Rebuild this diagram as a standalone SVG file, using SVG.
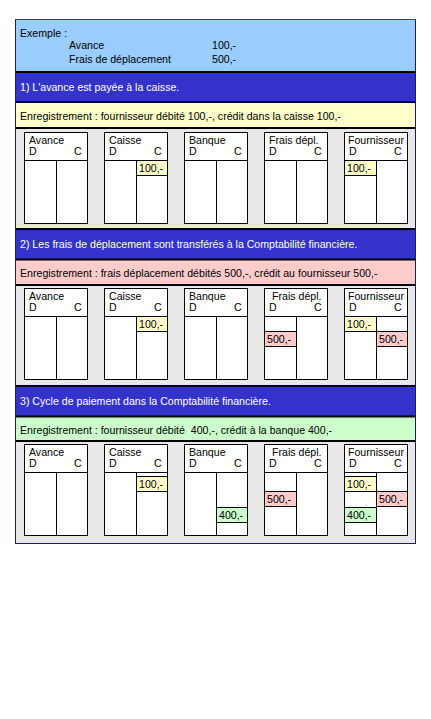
<svg xmlns="http://www.w3.org/2000/svg" width="431" height="719" viewBox="0 0 431 719">
<style>
.t{font-family:"Liberation Sans",Arial,sans-serif;font-size:10.6px;fill:#000}
.tw{font-family:"Liberation Sans",Arial,sans-serif;font-size:10.6px;fill:#fff}
.frame{fill:#fff;stroke:#000;stroke-width:1}
.ln{stroke:#000;stroke-width:1}
.sep{stroke:#000;stroke-width:2}
.blue{fill:#3333CC}
.gray{fill:#E8E8E8}
.vy{fill:#FFFFCC;stroke:#000;stroke-width:1}
.vp{fill:#FFCCCC;stroke:#000;stroke-width:1}
.vg{fill:#CCFFCC;stroke:#000;stroke-width:1}
</style>
<defs>
<g id="tacct">
<rect class="frame" x="0.5" y="0.5" width="63" height="91"/>
<line class="ln" x1="0.5" y1="28.5" x2="63.5" y2="28.5"/>
<line class="ln" x1="32.5" y1="28.5" x2="32.5" y2="91.5"/>
<text class="t" x="5" y="23">D</text>
<text class="t" x="50" y="23">C</text>
</g>
</defs>
<rect width="431" height="719" fill="#fff"/>
<g id="example">
<rect x="15.5" y="19.5" width="400" height="524" fill="#E8E8E8" stroke="#1a1a66" stroke-width="1"/>
<rect x="16" y="20" width="399" height="51" fill="#99CCFF"/>
<line x1="15.5" y1="19.5" x2="415.5" y2="19.5" stroke="#3333CC" stroke-width="1"/>
<text class="t" x="20" y="37">Exemple :</text>
<text class="t" x="69" y="49">Avance</text>
<text class="t" x="212" y="49">100,-</text>
<text class="t" x="69" y="63">Frais de déplacement</text>
<text class="t" x="212" y="63">500,-</text>
</g>
<g id="section1">
<rect class="blue" x="16" y="72" width="399" height="30"/>
<rect x="16" y="102" width="399" height="26" fill="#FFFFCC"/>
<line class="sep" x1="16" y1="72" x2="415" y2="72"/>
<line class="sep" x1="16" y1="102" x2="415" y2="102"/>
<line class="sep" x1="16" y1="128" x2="415" y2="128"/>
<text class="tw" x="20" y="91">1) L'avance est payée à la caisse.</text>
<text class="t" x="20" y="120">Enregistrement : fournisseur débité 100,-, crédit dans la caisse 100,-</text>
</g>
<g id="s1-avance" transform="translate(24,132)"><use href="#tacct"/><text class="t" x="5" y="12">Avance</text></g>
<g id="s1-caisse" transform="translate(104,132)"><use href="#tacct"/><text class="t" x="5" y="12">Caisse</text>
<rect class="vy" x="32.5" y="28.5" width="31" height="15"/><text class="t" x="35" y="40">100,-</text></g>
<g id="s1-banque" transform="translate(184,132)"><use href="#tacct"/><text class="t" x="5" y="12">Banque</text></g>
<g id="s1-frais" transform="translate(264,132)"><use href="#tacct"/><text class="t" x="5" y="12">Frais dépl.</text></g>
<g id="s1-fournisseur" transform="translate(344,132)"><use href="#tacct"/><text class="t" x="4" y="12">Fournisseur</text>
<rect class="vy" x="0.5" y="28.5" width="32" height="15"/><text class="t" x="3" y="40">100,-</text></g>

<g id="section2">
<rect class="blue" x="16" y="229" width="399" height="30"/>
<rect x="16" y="259" width="399" height="26" fill="#FFCCCC"/>
<line class="sep" x1="16" y1="229" x2="415" y2="229"/>
<line class="sep" x1="16" y1="259.5" x2="415" y2="259.5"/>
<line class="sep" x1="16" y1="285" x2="415" y2="285"/>
<text class="tw" x="20" y="248">2) Les frais de déplacement sont transférés à la Comptabilité financière.</text>
<text class="t" x="20" y="277">Enregistrement : frais déplacement débités 500,-, crédit au fournisseur 500,-</text>
</g>
<g id="s2-avance" transform="translate(24,288)"><use href="#tacct"/><text class="t" x="5" y="12">Avance</text></g>
<g id="s2-caisse" transform="translate(104,288)"><use href="#tacct"/><text class="t" x="5" y="12">Caisse</text>
<rect class="vy" x="32.5" y="28.5" width="31" height="15"/><text class="t" x="35" y="40">100,-</text></g>
<g id="s2-banque" transform="translate(184,288)"><use href="#tacct"/><text class="t" x="5" y="12">Banque</text></g>
<g id="s2-frais" transform="translate(264,288)"><use href="#tacct"/><text class="t" x="8" y="12">Frais dépl.</text>
<rect class="vp" x="0.5" y="43.5" width="32" height="15"/><text class="t" x="3" y="55">500,-</text></g>
<g id="s2-fournisseur" transform="translate(344,288)"><use href="#tacct"/><text class="t" x="4" y="12">Fournisseur</text>
<rect class="vy" x="0.5" y="28.5" width="32" height="15"/><text class="t" x="3" y="40">100,-</text>
<rect class="vp" x="32.5" y="43.5" width="31" height="15"/><text class="t" x="35" y="55">500,-</text></g>

<g id="section3">
<rect class="blue" x="16" y="386" width="399" height="30"/>
<rect x="16" y="416" width="399" height="25" fill="#CCFFCC"/>
<line class="sep" x1="16" y1="386" x2="415" y2="386"/>
<line class="sep" x1="16" y1="416.5" x2="415" y2="416.5"/>
<line class="sep" x1="16" y1="441" x2="415" y2="441"/>
<text class="tw" x="20" y="405">3) Cycle de paiement dans la Comptabilité financière.</text>
<text class="t" x="20" y="434" xml:space="preserve">Enregistrement : fournisseur débité  400,-, crédit à la banque 400,-</text>
</g>
<g id="s3-avance" transform="translate(24,444)"><use href="#tacct"/><text class="t" x="5" y="12">Avance</text></g>
<g id="s3-caisse" transform="translate(104,444)"><use href="#tacct"/><text class="t" x="5" y="12">Caisse</text>
<rect class="vy" x="32.5" y="32.5" width="31" height="15"/><text class="t" x="35" y="44">100,-</text></g>
<g id="s3-banque" transform="translate(184,444)"><use href="#tacct"/><text class="t" x="5" y="12">Banque</text>
<rect class="vg" x="32.5" y="63.5" width="31" height="15"/><text class="t" x="35" y="75">400,-</text></g>
<g id="s3-frais" transform="translate(264,444)"><use href="#tacct"/><text class="t" x="8" y="12">Frais dépl.</text>
<rect class="vp" x="0.5" y="47.5" width="32" height="15"/><text class="t" x="3" y="59">500,-</text></g>
<g id="s3-fournisseur" transform="translate(344,444)"><use href="#tacct"/><text class="t" x="4" y="12">Fournisseur</text>
<rect class="vy" x="0.5" y="32.5" width="32" height="15"/><text class="t" x="3" y="44">100,-</text>
<rect class="vp" x="32.5" y="47.5" width="31" height="15"/><text class="t" x="35" y="59">500,-</text>
<rect class="vg" x="0.5" y="63.5" width="32" height="15"/><text class="t" x="3" y="75">400,-</text></g>
<g id="connectors"/>
</svg>
